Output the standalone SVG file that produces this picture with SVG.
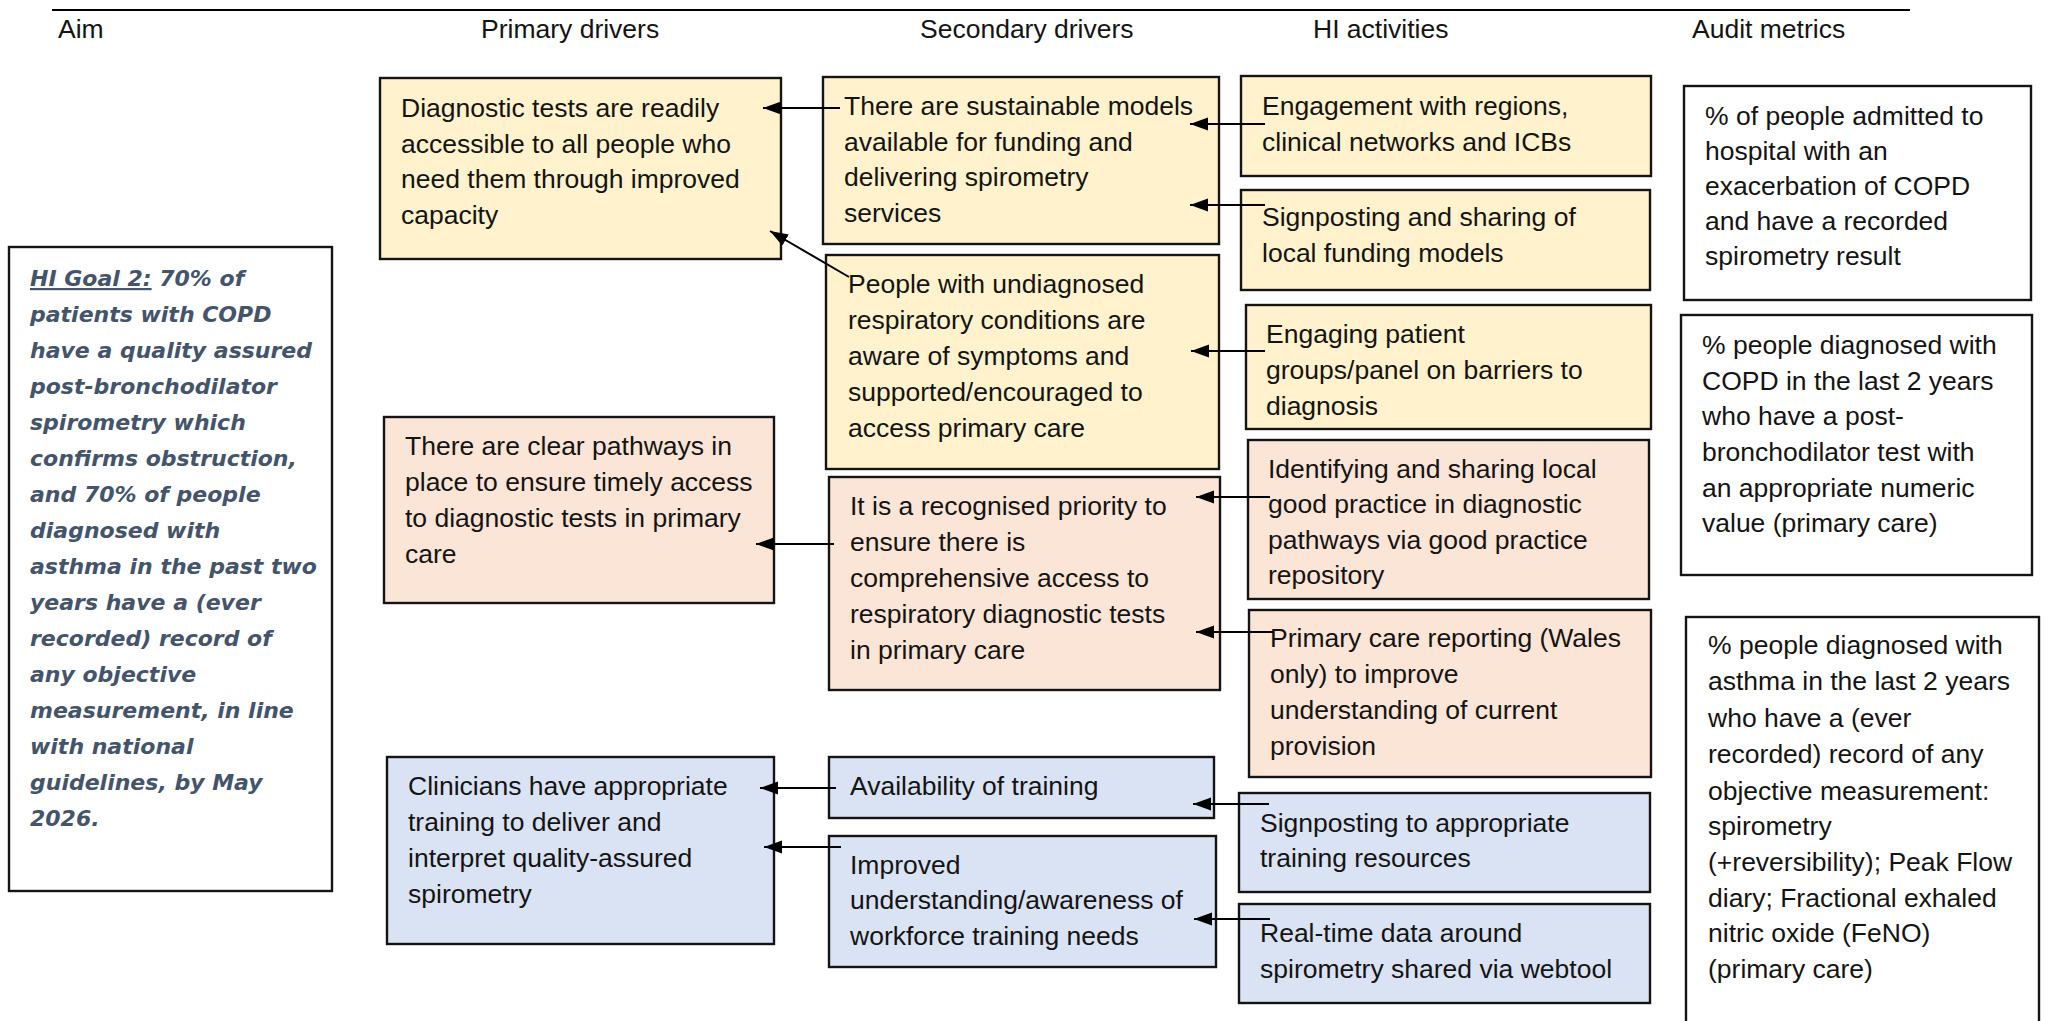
<svg xmlns="http://www.w3.org/2000/svg" width="2048" height="1021" viewBox="0 0 2048 1021">
<defs>
<style>
.bx{stroke:#141414;stroke-width:2.4}
.y{fill:#FFF2CC}.p{fill:#FBE5D6}.b{fill:#DAE3F3}.w{fill:#FFFFFF}
text{font-family:"Liberation Sans",Arial,sans-serif;font-size:26.5px;fill:#141414}
.aim{font-family:"DejaVu Sans",Verdana,sans-serif;font-weight:bold;font-style:italic;font-size:22px;fill:#44546A}
.hd{font-size:26.5px}
.cn{stroke:#000;stroke-width:2;fill:none;marker-end:url(#ah)}
</style>
<marker id="ah" markerUnits="userSpaceOnUse" markerWidth="18" markerHeight="14" refX="18" refY="6.5" orient="auto">
<path d="M0,0 L18,6.5 L0,13 z" fill="#000"/>
</marker>
</defs>
<rect width="2048" height="1021" fill="#fff"/>
<line x1="52" y1="10" x2="1910" y2="10" stroke="#000" stroke-width="2.2"/>
<g id="headers">
<text class="hd" x="58" y="38">Aim</text>
<text class="hd" x="481" y="38">Primary drivers</text>
<text class="hd" x="920" y="38">Secondary drivers</text>
<text class="hd" x="1313" y="38">HI activities</text>
<text class="hd" x="1692" y="38">Audit metrics</text>
</g>
<g id="aim">
<rect class="bx w" x="9" y="247" width="323" height="644"/>
<text class="aim" x="30" y="286"><tspan text-decoration="underline">HI Goal 2:</tspan> 70% of</text>
<text class="aim" x="30" y="322">patients with COPD</text>
<text class="aim" x="30" y="358">have a quality assured</text>
<text class="aim" x="30" y="394">post-bronchodilator</text>
<text class="aim" x="30" y="430">spirometry which</text>
<text class="aim" x="30" y="466">confirms obstruction,</text>
<text class="aim" x="30" y="502">and 70% of people</text>
<text class="aim" x="30" y="538">diagnosed with</text>
<text class="aim" x="30" y="574">asthma in the past two</text>
<text class="aim" x="30" y="610">years have a (ever</text>
<text class="aim" x="30" y="646">recorded) record of</text>
<text class="aim" x="30" y="682">any objective</text>
<text class="aim" x="30" y="718">measurement, in line</text>
<text class="aim" x="30" y="754">with national</text>
<text class="aim" x="30" y="790">guidelines, by May</text>
<text class="aim" x="30" y="826">2026.</text>
</g>
<g id="p1">
<rect class="bx y" x="380" y="78" width="401" height="181"/>
<text x="401" y="117">Diagnostic tests are readily</text>
<text x="401" y="152.5">accessible to all people who</text>
<text x="401" y="188">need them through improved</text>
<text x="401" y="223.5">capacity</text>
</g>
<g id="p2">
<rect class="bx p" x="384" y="417" width="390" height="186"/>
<text x="405" y="455">There are clear pathways in</text>
<text x="405" y="491">place to ensure timely access</text>
<text x="405" y="527">to diagnostic tests in primary</text>
<text x="405" y="563">care</text>
</g>
<g id="p3">
<rect class="bx b" x="387" y="757" width="387" height="187"/>
<text x="408" y="795">Clinicians have appropriate</text>
<text x="408" y="831">training to deliver and</text>
<text x="408" y="867">interpret quality-assured</text>
<text x="408" y="903">spirometry</text>
</g>
<g id="s1">
<rect class="bx y" x="823" y="77" width="396" height="167"/>
<text x="844" y="115">There are sustainable models</text>
<text x="844" y="150.5">available for funding and</text>
<text x="844" y="186">delivering spirometry</text>
<text x="844" y="221.5">services</text>
</g>
<g id="s2">
<rect class="bx y" x="826" y="255" width="393" height="214"/>
<text x="848" y="293">People with undiagnosed</text>
<text x="848" y="329">respiratory conditions are</text>
<text x="848" y="365">aware of symptoms and</text>
<text x="848" y="401">supported/encouraged to</text>
<text x="848" y="437">access primary care</text>
</g>
<g id="s3">
<rect class="bx p" x="829" y="477" width="391" height="213"/>
<text x="850" y="515">It is a recognised priority to</text>
<text x="850" y="551">ensure there is</text>
<text x="850" y="587">comprehensive access to</text>
<text x="850" y="623">respiratory diagnostic tests</text>
<text x="850" y="659">in primary care</text>
</g>
<g id="s4">
<rect class="bx b" x="829" y="757" width="385" height="61"/>
<text x="850" y="795">Availability of training</text>
</g>
<g id="s5">
<rect class="bx b" x="829" y="836" width="387" height="131"/>
<text x="850" y="874">Improved</text>
<text x="850" y="909">understanding/awareness of</text>
<text x="850" y="945">workforce training needs</text>
</g>
<g id="a1">
<rect class="bx y" x="1241" y="76" width="410" height="100"/>
<text x="1262" y="115">Engagement with regions,</text>
<text x="1262" y="151">clinical networks and ICBs</text>
</g>
<g id="a2">
<rect class="bx y" x="1241" y="190" width="409" height="100"/>
<text x="1262" y="226">Signposting and sharing of</text>
<text x="1262" y="262">local funding models</text>
</g>
<g id="a3">
<rect class="bx y" x="1246" y="305" width="405" height="124"/>
<text x="1266" y="343">Engaging patient</text>
<text x="1266" y="379">groups/panel on barriers to</text>
<text x="1266" y="415">diagnosis</text>
</g>
<g id="a4">
<rect class="bx p" x="1248" y="440" width="401" height="159"/>
<text x="1268" y="478">Identifying and sharing local</text>
<text x="1268" y="513">good practice in diagnostic</text>
<text x="1268" y="549">pathways via good practice</text>
<text x="1268" y="584">repository</text>
</g>
<g id="a5">
<rect class="bx p" x="1249" y="610" width="402" height="167"/>
<text x="1270" y="647">Primary care reporting (Wales</text>
<text x="1270" y="683">only) to improve</text>
<text x="1270" y="719">understanding of current</text>
<text x="1270" y="755">provision</text>
</g>
<g id="a6">
<rect class="bx b" x="1239" y="793" width="411" height="99"/>
<text x="1260" y="832">Signposting to appropriate</text>
<text x="1260" y="867">training resources</text>
</g>
<g id="a7">
<rect class="bx b" x="1239" y="904" width="411" height="99"/>
<text x="1260" y="942">Real-time data around</text>
<text x="1260" y="978">spirometry shared via webtool</text>
</g>
<g id="m1">
<rect class="bx w" x="1684" y="86" width="347" height="214"/>
<text x="1705" y="125">% of people admitted to</text>
<text x="1705" y="160">hospital with an</text>
<text x="1705" y="195">exacerbation of COPD</text>
<text x="1705" y="230">and have a recorded</text>
<text x="1705" y="265">spirometry result</text>
</g>
<g id="m2">
<rect class="bx w" x="1681" y="315" width="351" height="260"/>
<text x="1702" y="354">% people diagnosed with</text>
<text x="1702" y="390">COPD in the last 2 years</text>
<text x="1702" y="425">who have a post-</text>
<text x="1702" y="461">bronchodilator test with</text>
<text x="1702" y="497">an appropriate numeric</text>
<text x="1702" y="532">value (primary care)</text>
</g>
<g id="m3">
<rect class="bx w" x="1686" y="617" width="353" height="420"/>
<text x="1708" y="654">% people diagnosed with</text>
<text x="1708" y="690">asthma in the last 2 years</text>
<text x="1708" y="727">who have a (ever</text>
<text x="1708" y="763">recorded) record of any</text>
<text x="1708" y="800">objective measurement:</text>
<text x="1708" y="835">spirometry</text>
<text x="1708" y="871">(+reversibility); Peak Flow</text>
<text x="1708" y="907">diary; Fractional exhaled</text>
<text x="1708" y="942">nitric oxide (FeNO)</text>
<text x="1708" y="978">(primary care)</text>
</g>
<g id="connectors">
<line class="cn" x1="840" y1="108" x2="763" y2="108"/>
<line class="cn" x1="849" y1="277" x2="770" y2="231"/>
<line class="cn" x1="1265" y1="124" x2="1190" y2="124"/>
<line class="cn" x1="1265" y1="205" x2="1190" y2="205"/>
<line class="cn" x1="1265" y1="351" x2="1191" y2="351"/>
<line class="cn" x1="834" y1="544" x2="756" y2="544"/>
<line class="cn" x1="1270" y1="497" x2="1196" y2="497"/>
<line class="cn" x1="1273" y1="632" x2="1196" y2="632"/>
<line class="cn" x1="836" y1="788" x2="760" y2="788"/>
<line class="cn" x1="841" y1="847" x2="764" y2="847"/>
<line class="cn" x1="1269" y1="804" x2="1193" y2="804"/>
<line class="cn" x1="1270" y1="919" x2="1194" y2="919"/>
</g>
</svg>
